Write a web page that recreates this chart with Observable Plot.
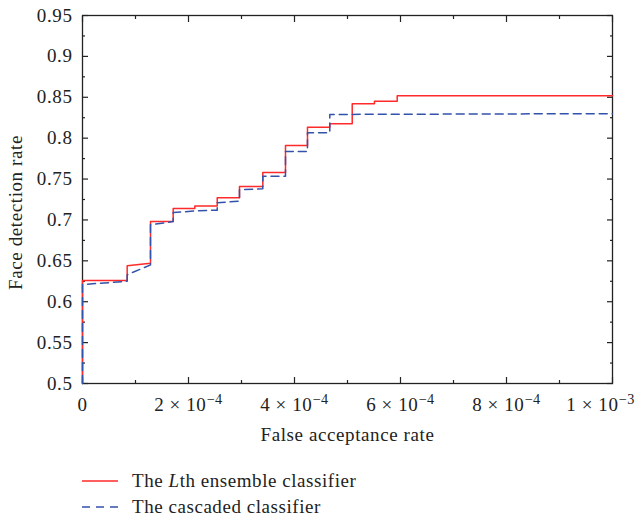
<!DOCTYPE html>
<html>
<head>
<meta charset="utf-8">
<script src="https://cdn.jsdelivr.net/npm/d3@7"></script>
<script src="https://cdn.jsdelivr.net/npm/@observablehq/plot@0.6"></script>
<style>
  body { margin: 0; background: #fff; font-family: "Liberation Serif", serif; color: #222; }
  #chart svg { display: block; }
  #legend { padding-top: 13px; font-size: 19px; letter-spacing: 0.55px; }
  .row { display: flex; align-items: center; height: 26px; }
  .row svg { margin-left: 82px; margin-right: 14px; display: block; }
</style>
</head>
<body>
<div id="chart"></div>
<div id="legend"></div>
<script>
// Data (FAR in units of 1e-4, detection rate)
const seriesNames = ["The Lth ensemble classifier", "The cascaded classifier"];
const ensembleFAR  = [0, 0, 0.843, 0.843, 1.283, 1.283, 1.711, 1.711, 2.119, 2.119, 2.542, 2.542, 2.962, 2.962, 3.402, 3.402, 3.830, 3.830, 4.245, 4.245, 4.666, 4.666, 5.089, 5.089, 5.509, 5.509, 5.938, 5.938, 10];
const ensembleRate = [0.5, 0.626, 0.626, 0.644, 0.647, 0.698, 0.698, 0.714, 0.714, 0.717, 0.717, 0.727, 0.727, 0.741, 0.741, 0.758, 0.758, 0.791, 0.791, 0.8135, 0.8135, 0.8175, 0.8175, 0.842, 0.842, 0.845, 0.845, 0.852, 0.852];
const cascadeFAR  = [0, 0, 0.843, 0.843, 1.283, 1.283, 1.711, 1.711, 2.119, 2.542, 2.542, 2.962, 2.962, 3.402, 3.402, 3.830, 3.830, 4.245, 4.245, 4.666, 4.666, 10];
const cascadeRate = [0.5, 0.621, 0.625, 0.633, 0.645, 0.694, 0.698, 0.709, 0.711, 0.712, 0.721, 0.723, 0.737, 0.738, 0.7535, 0.7535, 0.7837, 0.7837, 0.8066, 0.8066, 0.829, 0.830];

const xTicks = [0, 2e-4, 4e-4, 6e-4, 8e-4, 1e-3];
const xTickLabels = ["0", "2 × 10^−4", "4 × 10^−4", "6 × 10^−4", "8 × 10^−4", "1 × 10^−3"];
const xMinorTicks = [1e-4, 3e-4, 5e-4, 7e-4, 9e-4];
const yTicks = [0.5, 0.55, 0.6, 0.65, 0.7, 0.75, 0.8, 0.85, 0.9, 0.95];
const yTickLabels = ["0.5", "0.55", "0.6", "0.65", "0.7", "0.75", "0.8", "0.85", "0.9", "0.95"];
const yMinorTicks = [0.525, 0.575, 0.625, 0.675, 0.725, 0.775, 0.825, 0.875, 0.925];
const xTitle = "False acceptance rate";
const yTitle = "Face detection rate";

const RED = "#ff2a2a", BLUE = "#3352aa", INK = "#222";

const ensemble = ensembleFAR.map((f, i) => ({far: f * 1e-4, rate: ensembleRate[i]}));
const cascade = cascadeFAR.map((f, i) => ({far: f * 1e-4, rate: cascadeRate[i]}));

const tickStyle = {stroke: INK, fill: "none", label: null, strokeWidth: 1.2};
const chart = Plot.plot({
  width: 637,
  height: 455,
  marginLeft: 82,
  marginRight: 25,
  marginTop: 15,
  marginBottom: 72,
  style: {fontFamily: "'Liberation Serif', serif", fontSize: "19px", background: "#fff", color: INK, letterSpacing: "0.6px", overflow: "visible"},
  x: {domain: [0, 1e-3]},
  y: {domain: [0.5, 0.95]},
  marks: [
    Plot.frame({stroke: INK, strokeWidth: 1.3}),
    // inward major / minor ticks on all four sides
    Plot.axisX(xTicks, {anchor: "bottom", tickSize: -6, ...tickStyle}),
    Plot.axisX(xTicks, {anchor: "top", tickSize: -6, ...tickStyle}),
    Plot.axisX(xMinorTicks, {anchor: "bottom", tickSize: -3, ...tickStyle}),
    Plot.axisX(xMinorTicks, {anchor: "top", tickSize: -3, ...tickStyle}),
    Plot.axisY(yTicks, {anchor: "left", tickSize: -6, ...tickStyle}),
    Plot.axisY(yTicks, {anchor: "right", tickSize: -6, ...tickStyle}),
    Plot.axisY(yMinorTicks, {anchor: "left", tickSize: -3, ...tickStyle}),
    Plot.axisY(yMinorTicks, {anchor: "right", tickSize: -3, ...tickStyle}),
    // tick labels
    Plot.axisX(xTicks, {anchor: "bottom", tickSize: 0, tickPadding: 13.5, label: null, fill: INK,
      tickFormat: d => xTickLabels[xTicks.indexOf(d)]}),
    Plot.axisY(yTicks, {anchor: "left", tickSize: 0, tickPadding: 10, label: null, fill: INK,
      tickFormat: d => yTickLabels[yTicks.indexOf(d)]}),
    // axis titles
    Plot.text([xTitle], {frameAnchor: "bottom", dy: 51, lineAnchor: "middle", textAnchor: "middle", fill: INK, text: d => d}),
    Plot.text([yTitle], {frameAnchor: "left", dx: -67, dy: 13, rotate: -90, lineAnchor: "middle", textAnchor: "middle", fill: INK, text: d => d}),
    // series
    Plot.line(ensemble, {x: "far", y: "rate", stroke: RED, strokeWidth: 1.5}),
    Plot.line(cascade, {x: "far", y: "rate", stroke: BLUE, strokeWidth: 1.5, strokeDasharray: "8,5"})
  ]
});
document.getElementById("chart").append(chart);

// render "a × 10^b" tick labels with a real superscript; keep them inside the window
d3.select(chart).selectAll("text").each(function () {
  const t = this.textContent;
  if (!t.includes("^")) return;
  const [base, exp] = t.split("^");
  const sel = d3.select(this);
  sel.text("");
  sel.append("tspan").text(base);
  sel.append("tspan").attr("dy", "-0.45em").attr("font-size", "0.75em").text(exp);
  const r = this.getBoundingClientRect();
  const limit = 635;
  if (r.right > limit) {
    const tr = this.getAttribute("transform") || "";
    this.setAttribute("transform", tr + ` translate(${(limit - r.right).toFixed(1)},0)`);
  }
});

// legend
const legend = d3.select("#legend");
const rows = [
  {color: RED, dash: null, html: "The <i>L</i>th ensemble classifier"},
  {color: BLUE, dash: "8,6", html: "The cascaded classifier"}
];
rows.forEach((r, i) => {
  const row = legend.append("div").attr("class", "row");
  const s = row.append("svg").attr("width", 36).attr("height", 10);
  s.append("line").attr("x1", 0).attr("x2", 36).attr("y1", 5).attr("y2", 5)
    .attr("stroke", r.color).attr("stroke-width", 1.5).attr("stroke-dasharray", r.dash);
  row.append("span").attr("title", seriesNames[i]).html(r.html);
});
</script>
</body>
</html>
